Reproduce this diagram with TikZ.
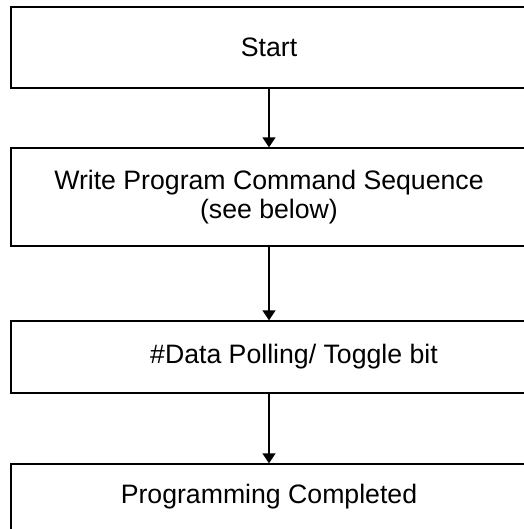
\documentclass[tikz,border=0pt]{standalone}
\usepackage{fontspec}
\setmainfont{Liberation Sans}
\usetikzlibrary{arrows.meta}

\tikzset{every picture/.style={line width=1pt}}
\tikzset{
	flowbox/.style={draw, rectangle, minimum width=387pt, inner sep=0pt, align=center, font=\fontsize{20}{22}\selectfont},
	flowarrow/.style={-{Triangle[length=7.5pt,width=9.75pt]}}
}

\begin{document}
\begin{tikzpicture}[x=0.75pt,y=0.75pt,yscale=-1,xscale=1]
	%set diagram to the page size, boxes run past the right and bottom edge
	\clip (0,0) rectangle (524,529);

	%Shape: Rectangle [id:start] 
	\node[flowbox, minimum height=60.75pt] (start) at (269,47.5) {Start};
	%Shape: Rectangle [id:write] 
	\node[flowbox, minimum height=73.5pt] (write) at (269,197) {Write Program Command Sequence\\(see below)};
	%Shape: Rectangle [id:poll] 
	\node[flowbox, minimum height=54pt] (poll) at (269,357) {\hspace*{37.5pt}\#Data Polling/ Toggle bit};
	%Shape: Rectangle [id:done] 
	\node[flowbox, minimum height=49.5pt] (done) at (269,497) {Programming Completed};

	%Straight Lines 
	\draw[flowarrow] (start) -- (write);
	%Straight Lines 
	\draw[flowarrow] (write) -- (poll);
	%Straight Lines 
	\draw[flowarrow] (poll) -- (done);

\end{tikzpicture}
\end{document}
